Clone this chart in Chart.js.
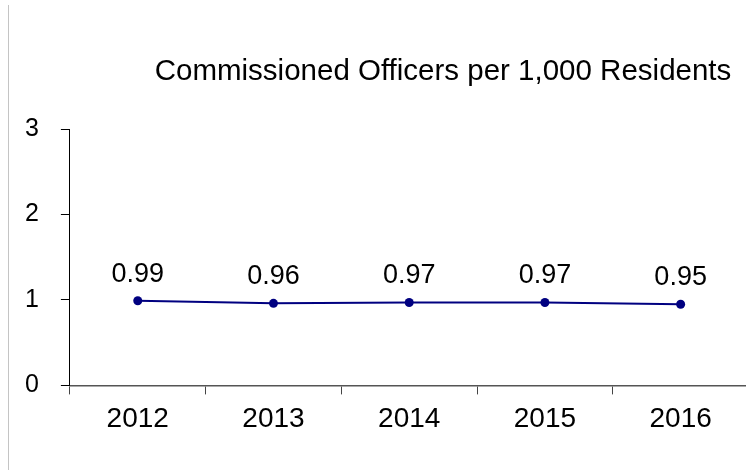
<!DOCTYPE html>
<html>
<head>
<meta charset="utf-8">
<script src="https://cdn.jsdelivr.net/npm/chart.js@4"></script>
<style>
html,body{margin:0;padding:0;background:#fff;overflow:hidden;width:746px;height:470px;}
#wrap{position:absolute;left:0;top:0;width:753px;height:470px;}
</style>
</head>
<body>
<div id="wrap"><canvas id="c" width="753" height="470"></canvas></div>
<script>
const titleText = "Commissioned Officers per 1,000 Residents";
const years = ["2012", "2013", "2014", "2015", "2016"];
const officersPer1000 = [0.99, 0.96, 0.97, 0.97, 0.95];
const yTicks = [0, 1, 2, 3];

const FONT = "'Liberation Sans', Arial, sans-serif";

const decor = {
  id: 'decor',
  beforeDraw(chart) {
    const ctx = chart.ctx;
    ctx.save();
    ctx.strokeStyle = '#c4c4c4';
    ctx.lineWidth = 1;
    ctx.beginPath();
    ctx.moveTo(8.5, 5);
    ctx.lineTo(8.5, 470);
    ctx.stroke();
    ctx.restore();
  },
  afterDraw(chart) {
    const ctx = chart.ctx;
    ctx.save();
    ctx.fillStyle = '#000';
    ctx.font = "29.5px " + FONT;
    ctx.textAlign = 'center';
    ctx.textBaseline = 'alphabetic';
    ctx.fillText(titleText, 443, 80);
    const meta = chart.getDatasetMeta(0);
    ctx.font = "27px " + FONT;
    meta.data.forEach((pt, i) => {
      ctx.fillText(officersPer1000[i].toFixed(2), pt.x, pt.y - 19);
    });
    ctx.restore();
  }
};

new Chart(document.getElementById('c'), {
  type: 'line',
  data: {
    labels: years,
    datasets: [{
      data: officersPer1000,
      borderColor: '#000080',
      backgroundColor: '#000080',
      borderWidth: 2,
      pointRadius: 4.5,
      pointBackgroundColor: '#000080',
      pointBorderWidth: 0,
      tension: 0
    }]
  },
  options: {
    responsive: false,
    animation: false,
    devicePixelRatio: 1,
    layout: { padding: { left: 3, top: 129, bottom: 26, right: 0 } },
    plugins: { legend: { display: false }, title: { display: false }, tooltip: { enabled: false } },
    scales: {
      x: {
        type: 'category',
        offset: true,
        grid: { display: true, offset: true, drawOnChartArea: false, drawTicks: true, tickLength: 9, color: '#444', lineWidth: 1 },
        border: { display: true, color: '#555', width: 1.5 },
        ticks: { color: '#000', font: { family: FONT, size: 28 }, padding: 8 }
      },
      y: {
        min: 0, max: 3,
        afterBuildTicks(scale) { scale.ticks = yTicks.map(v => ({ value: v })); },
        grid: { display: true, drawOnChartArea: false, drawTicks: true, tickLength: 9, color: '#000', lineWidth: 1 },
        border: { display: true, color: '#000', width: 1 },
        ticks: { color: '#000', font: { family: FONT, size: 25 }, padding: 22 }
      }
    }
  },
  plugins: [decor]
});
</script>
</body>
</html>
